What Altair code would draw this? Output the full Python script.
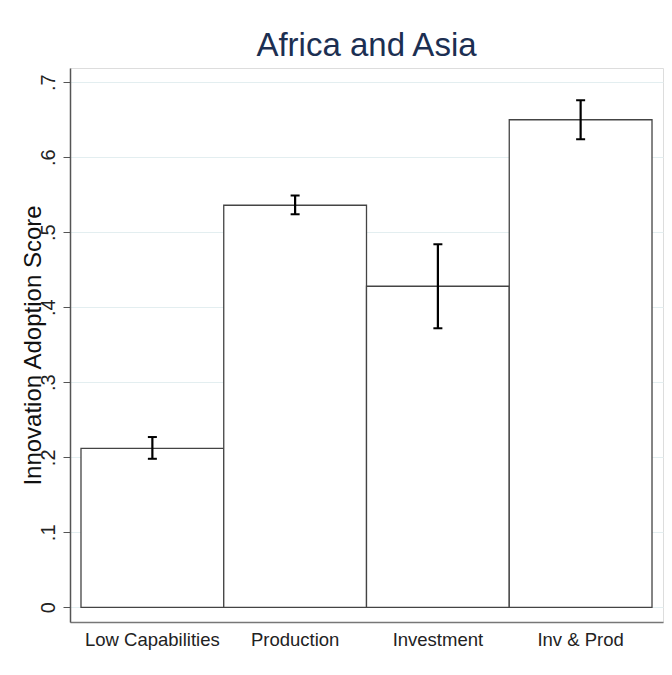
import altair as alt
import pandas as pd

categories = ["Low Capabilities", "Production", "Investment", "Inv & Prod"]
means = [0.212, 0.536, 0.428, 0.650]
lower = [0.198, 0.524, 0.372, 0.624]
upper = [0.227, 0.549, 0.484, 0.676]
y_ticks = [0, 0.1, 0.2, 0.3, 0.4, 0.5, 0.6, 0.7]

df = pd.DataFrame({"cat": categories, "mean": means, "lo": lower, "hi": upper})

FONT = "Liberation Sans"

xenc = alt.X(
    "cat:N",
    sort=categories,
    scale=alt.Scale(paddingInner=0, paddingOuter=0.077),
    axis=alt.Axis(
        title=None, labelAngle=0, ticks=False, labelFontSize=18.5, labelColor="#222222",
        labelPadding=8, domainColor="#777777", domainWidth=1.5, labelFont=FONT, grid=False,
    ),
)

yscale = alt.Scale(domain=[-0.0196, 0.719], nice=False, zero=False)

bars = alt.Chart(df).mark_bar(
    fill="white", stroke="#444444", strokeWidth=1.3
).encode(
    x=xenc,
    y=alt.Y(
        "mean:Q",
        scale=yscale,
        axis=alt.Axis(
            values=y_ticks,
            labelExpr="datum.value == 0 ? '0' : replace(format(datum.value, '.1f'), '0.', '.')",
            labelAngle=270, labelFontSize=20, labelColor="#222222", labelFont=FONT,
            labelPadding=5, tickSize=7, tickColor="#555555", domainColor="#555555",
            domainWidth=1.5, gridColor="#e3eef0", gridWidth=1,
            title="Innovation Adoption Score", titleFontSize=24, titleFont=FONT,
            titleFontWeight="normal", titleColor="#111111",
            titleX=-37, titleY=277, titleAlign="center", titleBaseline="middle", titleAngle=270,
        ),
    ),
    y2=alt.datum(0),
)

rules = alt.Chart(df).mark_rule(color="black", strokeWidth=2.2).encode(
    x=alt.X("cat:N", sort=categories),
    y="lo:Q",
    y2="hi:Q",
)

cap_hi = alt.Chart(df).mark_tick(color="black", size=9, thickness=2, opacity=1).encode(
    x=alt.X("cat:N", sort=categories), y="hi:Q"
)
cap_lo = alt.Chart(df).mark_tick(color="black", size=9, thickness=2, opacity=1).encode(
    x=alt.X("cat:N", sort=categories), y="lo:Q"
)

chart = alt.layer(bars, rules, cap_hi, cap_lo).properties(
    width=593,
    height=554,
    title=alt.TitleParams(
        "Africa and Asia", fontSize=33, font=FONT, fontWeight="normal",
        color="#1c2f52", anchor="middle", offset=5,
    ),
    autosize=alt.AutoSizeParams(type="none"),
    padding={"left": 62, "top": 60, "right": 1, "bottom": 45},
).configure_view(stroke=None).configure(background="white")

chart.save("out.html", embed_options={"renderer": "svg", "actions": False})
